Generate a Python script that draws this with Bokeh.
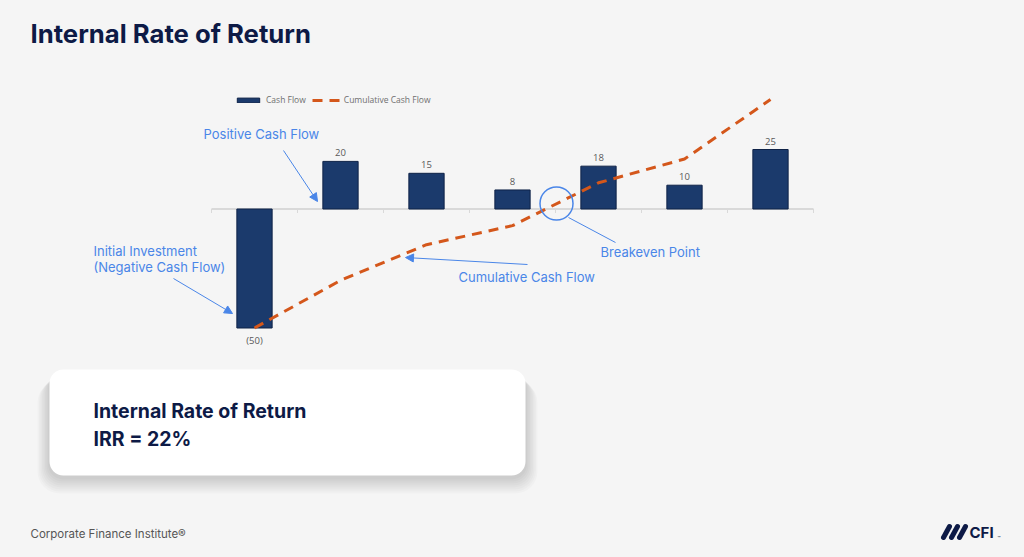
from bokeh.plotting import figure
from bokeh.models import Range1d, Legend, LegendItem, Arrow, NormalHead, ColumnDataSource
from bokeh.core.properties import value
from bokeh.embed import file_html
from bokeh.resources import INLINE

# ---------------- data ----------------
periods = ["Year 0", "Year 1", "Year 2", "Year 3", "Year 4", "Year 5", "Year 6"]
cash_flow = [-50, 20, 15, 8, 18, 10, 25]
cumulative = [-50, -30, -15, -7, 11, 21, 46]
irr_text = "IRR = 22%"

# ---------------- layout constants ----------------
W, H = 1008, 541
OFF = 0                      # measured offset of the canvas on the page
BG = "#f5f5f5"
NAVY = "#0d1a46"
BAR = "#1b3a6c"
ORANGE = "#d4571b"
BLUE = "#4a86e8"

cat_px = 86.0                # pixels per category
first_center = 254.0         # image x of first category centre
zero_y = 208.5               # image y of value 0
ppu = 2.38                   # pixels per unit

x_start = (OFF - first_center) / cat_px
x_end = (OFF + W - first_center) / cat_px
y_end = (zero_y - OFF) / ppu
y_start = -(OFF + H - zero_y) / ppu

p = figure(width=W, height=H, output_backend="svg", toolbar_location=None,
           x_range=Range1d(x_start, x_end), y_range=Range1d(y_start, y_end),
           x_axis_location=None, y_axis_location=None, min_border=0,
           background_fill_color=BG, border_fill_color=BG, outline_line_color=None)
p.grid.visible = False
p.extra_x_ranges = {"px": Range1d(OFF, OFF + W)}
p.extra_y_ranges = {"px": Range1d(OFF + H, OFF)}
PX = dict(x_range_name="px", y_range_name="px")

idx = list(range(len(periods)))

# ---------------- axis line & ticks ----------------
n = len(periods)
p.segment(x0=[-0.5], y0=[0], x1=[n - 0.5], y1=[0], line_color="#d9d9d9", line_width=2)
bounds = [i - 0.5 for i in range(n + 1)]
tick_len = 4 / ppu
p.segment(x0=bounds, y0=[0] * len(bounds), x1=bounds, y1=[-tick_len] * len(bounds),
          line_color="#d9d9d9", line_width=1)

# ---------------- bars ----------------
src = ColumnDataSource(dict(
    x=idx, top=cash_flow, periods=periods,
    label=[f"({abs(v)})" if v < 0 else str(v) for v in cash_flow]))
bars = p.vbar(x="x", top="top", bottom=0, width=0.41, source=src,
              fill_color=BAR, line_color="#0e2247", line_width=1)

pos = [i for i, v in enumerate(cash_flow) if v >= 0]
neg = [i for i, v in enumerate(cash_flow) if v < 0]
p.text(x=[idx[i] for i in pos], y=[cash_flow[i] for i in pos],
       text=[src.data["label"][i] for i in pos], y_offset=-5,
       text_align="center", text_baseline="bottom", text_font=value("Open Sans"),
       text_font_size="9.5px", text_color="#595959")
p.text(x=[idx[i] for i in neg], y=[cash_flow[i] for i in neg],
       text=[src.data["label"][i] for i in neg], y_offset=6,
       text_align="center", text_baseline="top", text_font=value("Open Sans"),
       text_font_size="9.5px", text_color="#595959")

# ---------------- cumulative line ----------------
line = p.line(x=idx, y=cumulative, line_color=ORANGE, line_width=3, line_dash="10 7")

# ---------------- legend ----------------
legend = Legend(items=[LegendItem(label="Cash Flow", renderers=[bars]),
                       LegendItem(label="Cumulative Cash Flow", renderers=[line])],
                orientation="horizontal", location=(234 - OFF, H - (105 - OFF)),
                glyph_width=28, glyph_height=6, label_height=10, label_standoff=4,
                spacing=6, padding=0, margin=0,
                label_text_font="Open Sans",
                label_text_font_size="8.5px", label_text_color="#6f6f6f",
                background_fill_alpha=0, border_line_alpha=0)
p.add_layout(legend, "center")

# ---------------- title ----------------
p.text(x=[30], y=[33], text=["Internal Rate of Return"], text_font=value("Inter"),
       text_font_style="bold", text_font_size="25.7px", text_color=NAVY,
       text_baseline="middle", text_align="left", **PX)

# ---------------- annotations ----------------
ann_x = [203, 93, 93, 458, 600]
ann_y = [133, 250, 266, 276, 251]
ann_t = ["Positive Cash Flow", "Initial Investment", "(Negative Cash Flow)",
         "Cumulative Cash Flow", "Breakeven Point"]
p.text(x=ann_x, y=ann_y, text=ann_t, text_font=value("Inter"), text_font_size="13px",
       text_color=BLUE, text_baseline="middle", text_align="left", **PX)

for (xs, ys, xe, ye) in [(283, 150, 317, 201), (173, 278, 232, 313), (527, 264, 405, 257)]:
    p.add_layout(Arrow(x_start=xs, y_start=ys, x_end=xe, y_end=ye, line_color=BLUE,
                       line_width=1,
                       end=NormalHead(size=8, fill_color=BLUE, line_color=BLUE, line_width=1),
                       **PX))

p.scatter(x=[556], y=[203], size=33, marker="circle", fill_alpha=0,
          line_color=BLUE, line_width=1.5, **PX)
p.segment(x0=[568], y0=[217], x1=[615], y1=[242], line_color=BLUE, line_width=1, **PX)

# ---------------- IRR box ----------------
for k in range(1, 9):
    p.quad(left=[49 - 1.5 * k], right=[525 + 1.5 * k], top=[372 + k], bottom=[477 + 2 * k],
           border_radius=14 + k, fill_color="#000000", fill_alpha=0.018,
           line_color=None, **PX)
p.quad(left=[49], right=[525], top=[369], bottom=[475], border_radius=14,
       fill_color="#ffffff", line_color=None, **PX)
p.text(x=[93, 93], y=[410, 438], text=["Internal Rate of Return", irr_text],
       text_font=value("Inter"), text_font_style="bold", text_font_size="19.5px",
       text_color=NAVY, text_baseline="middle", text_align="left", **PX)

# ---------------- footer ----------------
p.text(x=[30], y=[533], text=["Corporate Finance Institute®"], text_font=value("Inter"),
       text_font_size="11.5px", text_color="#555555", text_baseline="middle",
       text_align="left", **PX)
p.segment(x0=[943, 951, 959], y0=[537, 537, 537], x1=[949, 957, 965], y1=[526, 526, 526],
          line_color=NAVY, line_width=5, line_cap="round", **PX)
p.text(x=[969], y=[532], text=["CFI"], text_font=value("Inter"), text_font_style="bold",
       text_font_size="15px", text_color=NAVY, text_baseline="middle",
       text_align="left", **PX)
p.text(x=[997], y=[537], text=["™"], text_font=value("Inter"), text_font_size="5px",
       text_color=NAVY, text_baseline="middle", text_align="left", **PX)

html = file_html(p, INLINE)
html = html.replace("</head>", "<style>body{background:#f5f5f5;}</style></head>", 1)
open("out.html", "w").write(html)
